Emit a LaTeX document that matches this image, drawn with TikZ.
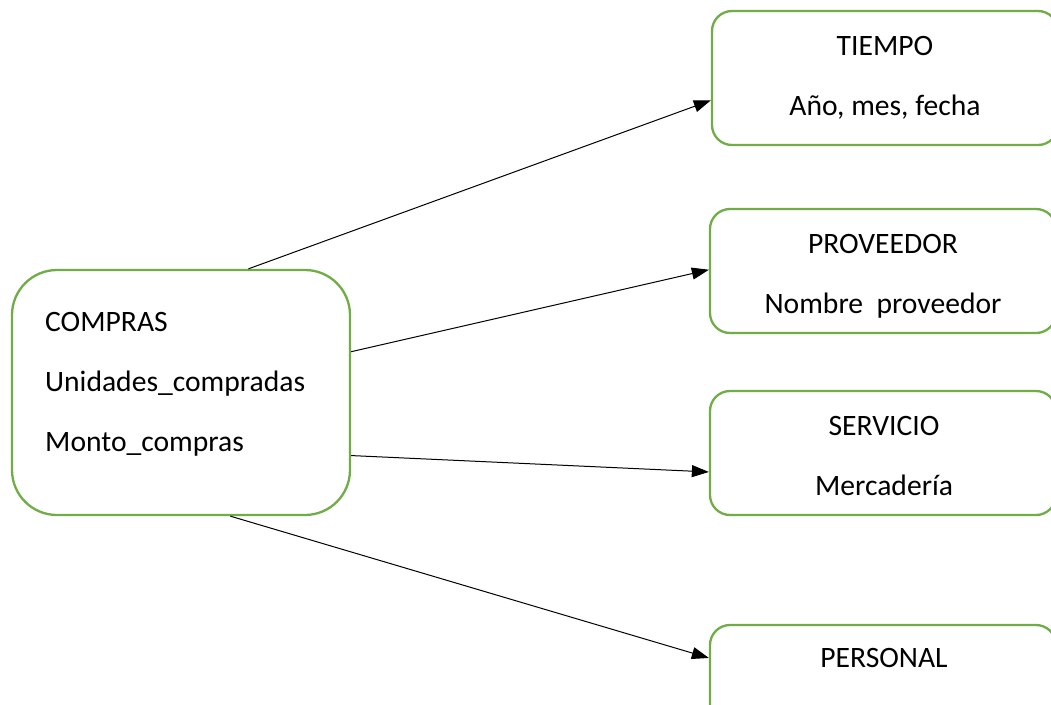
\documentclass[tikz,border=0pt]{standalone}
\usepackage{fontspec}
\setmainfont{Carlito}
\usetikzlibrary{arrows.meta,calc}
\definecolor{boxgreen}{HTML}{70AD47}
\tikzset{
  entity/.style={draw=boxgreen, line width=2.3pt, rounded corners=#1, fill=white, inner sep=0pt},
  txt/.style={anchor=base, inner sep=0pt, font=\fontsize{29.6}{35}\selectfont},
  link/.style={line width=1pt, -{Triangle[length=17pt,width=12pt]}}
}
\begin{document}
\begin{tikzpicture}[x=1pt,y=-1pt]
  \useasboundingbox (0,0) rectangle (1051,704);
  \clip (0,0) rectangle (1051,704);

  % fact box
  \node[entity=45, minimum width=338pt, minimum height=245pt] (compras) at (181,392.5) {};
  \node[txt, anchor=base west] (tCompras) at (45,331) {COMPRAS};
  \node[txt, anchor=base west] (tUnidades) at (45,391) {Unidades\_compradas};
  \node[txt, anchor=base west] (tMonto) at (45,451) {Monto\_compras};

  % dimension boxes
  \node[entity=20, minimum width=346pt, minimum height=134pt] (tiempo) at (885,78) {};
  \node[txt] (tTiempo) at (885,55) {TIEMPO};
  \node[txt] (tFecha) at (885,115) {Año, mes, fecha};

  \node[entity=20, minimum width=346pt, minimum height=124pt] (proveedor) at (883,271) {};
  \node[txt] (tProveedor) at (883,253) {PROVEEDOR};
  \node[txt] (tNombre) at (883,313) {Nombre \ proveedor};

  \node[entity=20, minimum width=346pt, minimum height=124pt] (servicio) at (883,453) {};
  \node[txt] (tServicio) at (884,435) {SERVICIO};
  \node[txt] (tMercaderia) at (884,495) {Mercadería};

  \node[entity=20, minimum width=346pt, minimum height=124pt] (personal) at (883,687) {};
  \node[txt] (tPersonal) at (884,667) {PERSONAL};

  % links
  \draw[link] ($(compras.north west)!0.698!(compras.north east)$) -- ($(tiempo.north west)!0.664!(tiempo.south west)$);
  \draw[link] ($(compras.north east)!0.335!(compras.south east)$) -- ($(proveedor.north west)!0.49!(proveedor.south west)$);
  \draw[link] ($(compras.north east)!0.755!(compras.south east)$) -- ($(servicio.north west)!0.65!(servicio.south west)$);
  \draw[link] ($(compras.south west)!0.645!(compras.south east)$) -- ($(personal.north west)!0.27!(personal.south west)$);
\end{tikzpicture}
\end{document}
